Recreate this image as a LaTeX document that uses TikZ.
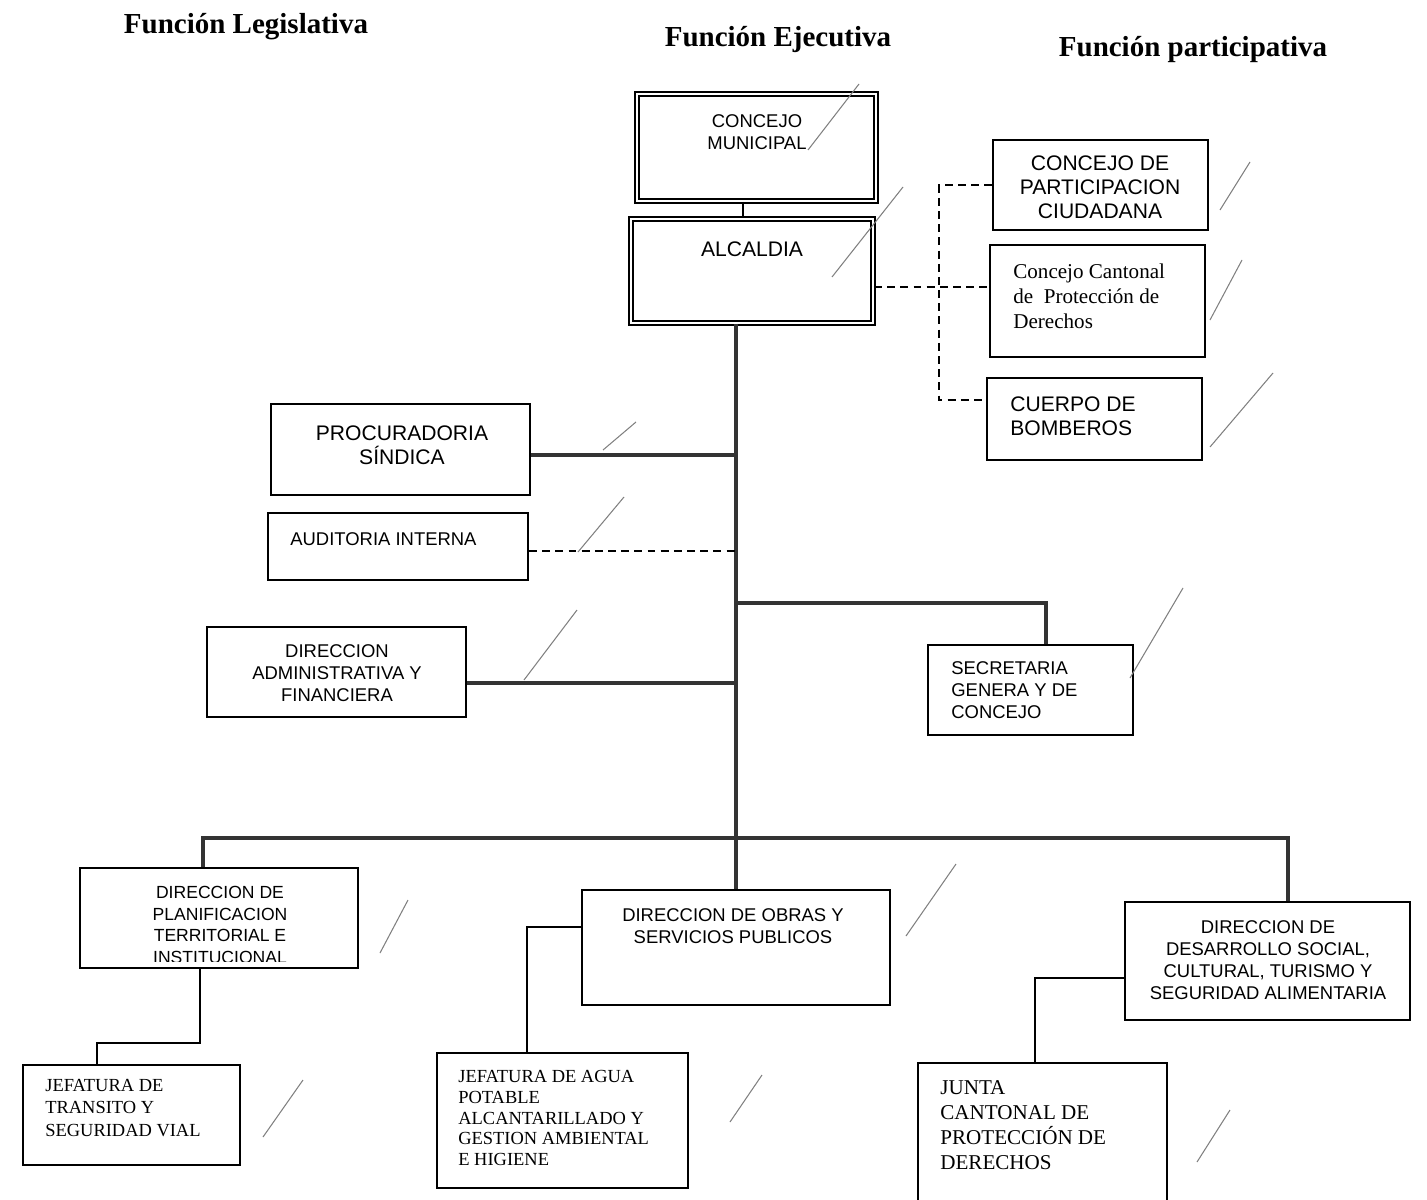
\documentclass[tikz,border=0pt]{standalone}
\usepackage{fontspec}
\setmainfont{Liberation Serif}
\newfontfamily\arialfont{Liberation Sans}
\usetikzlibrary{positioning,fit}

\tikzset{
  box/.style={draw, line width=1.1pt, inner sep=0pt, fit={#1}},
  dbox/.style={box={#1}, double, double distance=1.5pt},
  head/.style={inner sep=0pt, font=\fontsize{16.5}{20}\selectfont\bfseries},
  caps/.style={inner sep=0pt, align=center, font=\arialfont\fontsize{10.5}{12.4}\selectfont},
  bigcaps/.style={inner sep=0pt, align=center, font=\arialfont\fontsize{12}{13.8}\selectfont},
  roman/.style={inner sep=0pt, align=left, anchor=west, font=\fontsize{10.5}{12.2}\selectfont},
  bigroman/.style={inner sep=0pt, align=left, anchor=west, font=\fontsize{12}{14.2}\selectfont},
  trunk/.style={draw=black!80, line width=2.3pt},
  link/.style={draw, line width=1.1pt},
  dlink/.style={draw, line width=1pt, dash pattern=on 4.5pt off 3pt},
  tick/.style={draw=black!50, line width=0.6pt},
}

\begin{document}
\begin{tikzpicture}[x=0.02cm, y=-0.02cm]
    \useasboundingbox (0,0) rectangle (1427,1200);

    % Headings
    \node[head] (leg) at (246,27) {Función Legislativa};
    \node[head] (eje) at (778,40) {Función Ejecutiva};
    \node[head] (par) at (1193,50) {Función participativa};

    % Concejo and Alcaldia
    \node[dbox={(637,94) (876,201)}] (concejo) {};
    \node[caps] (concejo-t) at (757,132) {CONCEJO\\MUNICIPAL};
    \node[dbox={(631,219) (873,323)}] (alc) {};
    \node[bigcaps] (alc-t) at (752,249) {ALCALDIA};

    % Participative side
    \node[box={(993,140) (1208,230)}] (part) {};
    \node[bigcaps] (part-t) at (1100,187) {CONCEJO DE\\PARTICIPACION\\CIUDADANA};
    \node[box={(990,245) (1205,357)}] (cant) {};
    \node[bigroman] (cant-t) at (1013,296) {Concejo Cantonal\\de \ Protección de\\Derechos};
    \node[box={(987,378) (1202,460)}] (bomb) {};
    \node[bigcaps, align=left, anchor=west] (bomb-t) at (1010,416) {CUERPO DE\\BOMBEROS};

    % Staff units
    \node[box={(271,404) (530,495)}] (proc) {};
    \node[bigcaps] (proc-t) at (402,445) {PROCURADORIA\\SÍNDICA};
    \node[box={(268,513) (528,580)}] (aud) {};
    \node[caps, anchor=west] (aud-t) at (290,539) {AUDITORIA INTERNA};
    \node[box={(207,627) (466,717)}] (adm) {};
    \node[caps] (adm-t) at (337,673) {DIRECCION\\ADMINISTRATIVA Y\\FINANCIERA};
    \node[box={(928,645) (1133,735)}] (sec) {};
    \node[caps, align=left, anchor=west] (sec-t) at (951,690) {SECRETARIA\\GENERA Y DE\\CONCEJO};

    % Directions
    \node[box={(80,868) (358,968)}] (plan) {};
    \begin{scope}
        \clip (plan.north west) rectangle ([yshift=4pt]plan.south east);
        \node[caps, font=\arialfont\fontsize{10}{12.3}\selectfont] (plan-t) at (220,925)
            {DIRECCION DE\\PLANIFICACION\\TERRITORIAL E\\INSTITUCIONAL};
    \end{scope}
    \node[box={(582,890) (890,1005)}] (obras) {};
    \node[caps] (obras-t) at (733,926) {DIRECCION DE OBRAS Y\\SERVICIOS PUBLICOS};
    \node[box={(1125,902) (1410,1020)}] (des) {};
    \node[caps] (des-t) at (1268,960) {DIRECCION DE\\DESARROLLO SOCIAL,\\CULTURAL, TURISMO Y\\SEGURIDAD ALIMENTARIA};

    % Jefaturas
    \node[box={(23,1065) (240,1165)}] (tran) {};
    \node[roman, font=\fontsize{10.5}{12.8}\selectfont] (tran-t) at (45,1108) {JEFATURA DE\\TRANSITO Y\\SEGURIDAD VIAL};
    \node[box={(437,1053) (688,1188)}] (agua) {};
    \node[roman, font=\fontsize{10.5}{11.9}\selectfont] (agua-t) at (458,1118) {JEFATURA DE AGUA\\POTABLE\\ALCANTARILLADO Y\\GESTION AMBIENTAL\\E HIGIENE};
    \node[box={(918,1063) (1167,1215)}] (junta) {};
    \node[bigroman] (junta-t) at (940,1125) {JUNTA\\CANTONAL DE\\PROTECCIÓN DE\\DERECHOS};

    % Lines of authority
    \draw[link] ([xshift=-7.5pt]concejo.south) -- ([xshift=-7.5pt]concejo.south |- alc.north);
    \draw[trunk] (alc.south -| obras.north) -- (obras.north);
    \draw[trunk] ([yshift=-3pt]proc.east) -- ([yshift=-3pt]proc.east -| obras.north);
    \draw[dlink] ([yshift=-2.5pt]aud.east) -- ([yshift=-2.5pt]aud.east -| obras.north);
    \draw[trunk] ([yshift=-6pt]adm.east) -- ([yshift=-6pt]adm.east -| obras.north);
    \draw[trunk] (obras.north |- 0,603) -| ([xshift=8.8pt]sec.north);
    \draw[trunk] ([xshift=-9pt]plan.north) |- (obras.north |- 0,838) -| ([xshift=11.6pt]des.north);

    \draw[link] ([xshift=-10.7pt]plan.south) -- ++(0,74) -| ([xshift=-19.6pt]tran.north);
    \draw[link] ([yshift=11.6pt]obras.west) -| ([xshift=-20pt]agua.north);
    \draw[link] ([yshift=-9.6pt]des.west) -| ([xshift=-4.3pt]junta.north);

    % Participation (dashed)
    \draw[dlink] ([yshift=-9pt]alc.east) -- ([yshift=-9pt]alc.east -| cant.west);
    \draw[dlink] (part.west) -- ++(-53,0) |- ([yshift=10.8pt]bomb.west);

    % Pen ticks
    \foreach \xa/\ya/\xb/\yb in {808/150/859/84, 832/277/903/187, 1220/210/1250/162,
        1210/320/1242/260, 1210/447/1273/373, 603/450/636/422, 578/552/624/497,
        524/680/577/610, 1130/678/1183/588, 380/953/408/900, 906/936/956/864,
        263/1137/303/1080, 730/1122/762/1075, 1197/1162/1230/1110}
        \draw[tick] (\xa,\ya) -- (\xb,\yb);
\end{tikzpicture}
\end{document}
